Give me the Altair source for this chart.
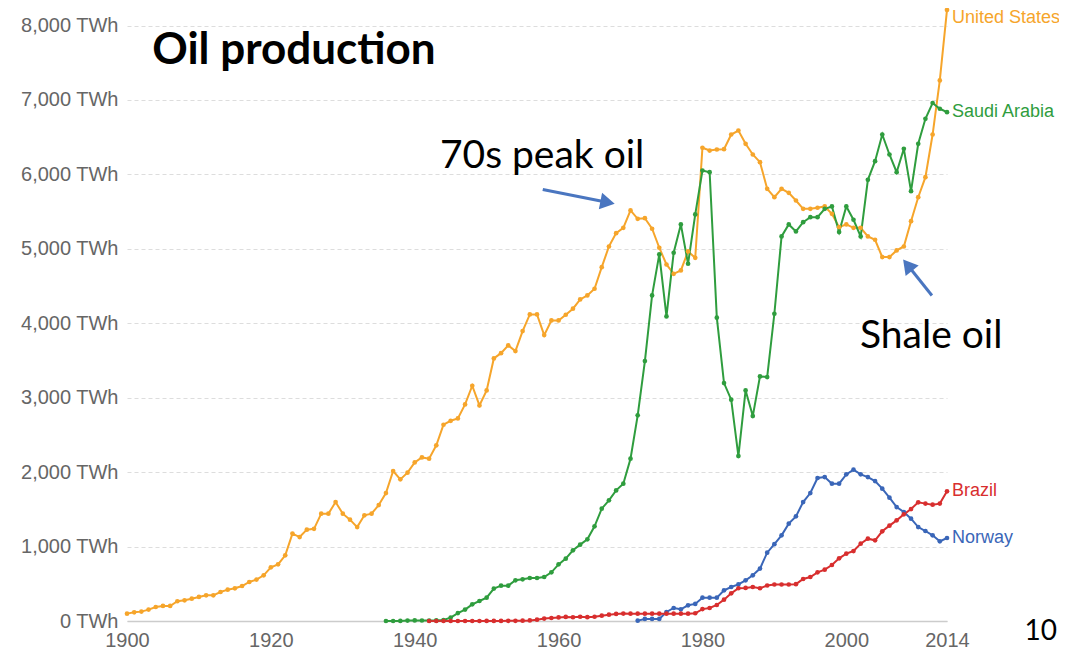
import math
import altair as alt
import pandas as pd

# ---------------- data (TWh per year) ----------------
us_start = 1900
us_values = [
    99, 117, 126, 153, 188, 202, 202, 265, 278, 300,
    323, 345, 345, 390, 421, 439, 470, 524, 556, 614,
    721, 761, 882, 1174, 1128, 1227, 1238, 1442, 1442, 1598,
    1442, 1362, 1262, 1420, 1442, 1558, 1719, 2015, 1903, 1993,
    2131, 2198, 2181, 2360, 2637, 2690, 2722, 2910, 3161, 2897,
    3098, 3528, 3599, 3703, 3626, 3895, 4119, 4119, 3841, 4038,
    4038, 4115, 4196, 4320, 4374, 4464, 4754, 5032, 5211, 5283,
    5516, 5404, 5412, 5270, 5015, 4790, 4665, 4710, 4965, 4880,
    6358, 6321, 6335, 6339, 6536, 6590, 6411, 6268, 6165, 5807,
    5694, 5807, 5753, 5650, 5538, 5538, 5552, 5570, 5471, 5291,
    5328, 5283, 5283, 5167, 5122, 4889, 4889, 4979, 5032, 5372,
    5694, 5963, 6536, 7263, 8210,
]

sa_start = 1936
sa_values = [
    0, 0, 1, 6, 8, 7, 7, 8, 13, 46,
    107, 153, 224, 269, 314, 435, 475, 475, 547, 560,
    578, 578, 591, 654, 761, 838, 950, 1026, 1097, 1272,
    1509, 1621, 1755, 1845, 2181, 2763, 3492, 4374, 4925, 4092,
    4948, 5328, 4800, 5462, 6053, 6030, 4075, 3197, 2974, 2216,
    3098, 2753, 3286, 3277, 4128, 5167, 5328, 5234, 5359, 5426,
    5426, 5538, 5570, 5225, 5570, 5391, 5167, 5928, 6178, 6536,
    6268, 6030, 6344, 5775, 6411, 6747, 6960, 6882, 6836,
]

br_start = 1942
br_values = [
    0, 0, 0, 0, 0, 0, 0, 0, 1, 1,
    1, 2, 2, 4, 8, 18, 32, 40, 48, 55,
    50, 57, 52, 57, 72, 85, 95, 100, 99, 99,
    99, 99, 99, 99, 99, 99, 99, 104, 160, 175,
    215, 287, 372, 440, 445, 457, 440, 477, 490, 490,
    490, 495, 564, 591, 654, 690, 752, 842, 905, 940,
    1039, 1106, 1084, 1205, 1281, 1352, 1433, 1504, 1594, 1577,
    1563, 1577, 1742,
]

no_start = 1971
no_values = [
    5, 28, 28, 28, 121, 175, 157, 211, 230, 314,
    314, 314, 412, 457, 491, 547, 614, 704, 918, 1032,
    1151, 1308, 1406, 1598, 1719, 1921, 1934, 1845, 1845, 1970,
    2033, 1970, 1934, 1880, 1778, 1657, 1531, 1464, 1375, 1262,
    1209, 1151, 1070, 1115,
]

countries = ["United States", "Saudi Arabia", "Norway", "Brazil"]
colors = ["#f6a52b", "#2f9d3e", "#3a66b8", "#d82e2e"]

x_ticks = [1900, 1920, 1940, 1960, 1980, 2000, 2014]
y_ticks = [0, 1000, 2000, 3000, 4000, 5000, 6000, 7000, 8000]

# annotations (data units: year, TWh)
ann_text = ["Oil production", "70s peak oil", "Shale oil"]
ann_year = [1903.5, 1943.5, 2001.9]
ann_twh = [7490, 6093, 3662]
ann_bold = ["bold", "normal", "normal"]

arrow_from_year = [1957.8, 2011.9]
arrow_from_twh = [5798, 4374]
arrow_to_year = [1967.8, 2007.9]
arrow_to_twh = [5606, 4858]

# ---------------- build tables ----------------
series = [
    ("United States", us_start, us_values),
    ("Saudi Arabia", sa_start, sa_values),
    ("Norway", no_start, no_values),
    ("Brazil", br_start, br_values),
]
rows = []
for name, start, vals in series:
    for i, v in enumerate(vals):
        rows.append({"country": name, "year": start + i, "twh": v})
df = pd.DataFrame(rows)

last = pd.DataFrame(
    [{"country": n, "year": s + len(v) - 1, "twh": v[-1]} for n, s, v in series]
)

W, H = 820, 613
X_DOMAIN = [1900, 2014]
Y_DOMAIN = [0, 8236]
px_year = W / (X_DOMAIN[1] - X_DOMAIN[0])
px_twh = H / (Y_DOMAIN[1] - Y_DOMAIN[0])

HEAD_SIZE = 280
head_h = math.sqrt(HEAD_SIZE) * math.sqrt(3) / 2
shaft_rows, head_rows = [], []
for fy, ft, ty, tt in zip(arrow_from_year, arrow_from_twh, arrow_to_year, arrow_to_twh):
    dx = (ty - fy) * px_year
    dy = -(tt - ft) * px_twh
    ln = math.hypot(dx, dy)
    ux, uy = dx / ln, dy / ln
    cx = ty - (head_h / 2) * ux / px_year
    ct = tt + (head_h / 2) * uy / px_twh
    ex = ty - (head_h * 0.8) * ux / px_year
    et = tt + (head_h * 0.8) * uy / px_twh
    ang = math.degrees(math.atan2(ux, -uy)) % 360
    shaft_rows.append({"x": fy, "y": ft, "x2": ex, "y2": et})
    head_rows.append({"x": cx, "y": ct, "angle": ang})
shafts = pd.DataFrame(shaft_rows)
heads = pd.DataFrame(head_rows)

ann = pd.DataFrame({"text": ann_text, "year": ann_year, "twh": ann_twh, "weight": ann_bold})

# ---------------- chart ----------------
xs = alt.Scale(domain=X_DOMAIN, nice=False, zero=False)
ys = alt.Scale(domain=Y_DOMAIN, nice=False)
cs = alt.Scale(domain=countries, range=colors)

x_enc = alt.X(
    "year:Q",
    scale=xs,
    axis=alt.Axis(
        values=x_ticks, format="d", title=None, grid=False, ticks=False,
        labelFontSize=20, labelColor="#666666", labelFont="Liberation Sans",
        labelPadding=9, labelFlush=False, domainColor="#cccccc", domainWidth=1.5,
    ),
)
y_enc = alt.Y(
    "twh:Q",
    scale=ys,
    axis=alt.Axis(
        values=y_ticks, labelExpr="format(datum.value, ',') + ' TWh'", title=None,
        domain=False, ticks=False, grid=True, gridDash=[4, 3], gridColor="#dddddd",
        labelFontSize=20, labelColor="#666666", labelFont="Liberation Sans", labelPadding=9,
    ),
)

lines = alt.Chart(df).mark_line(
    strokeWidth=2, point=alt.OverlayMarkDef(filled=True, size=22)
).encode(
    x=x_enc, y=y_enc,
    color=alt.Color("country:N", scale=cs, legend=None),
)

labels = alt.Chart(last).transform_filter(
    "datum.country != 'United States'"
).mark_text(align="left", baseline="middle", dx=5, fontSize=18, font="Liberation Sans").encode(
    x=alt.X("year:Q", scale=xs), y=alt.Y("twh:Q", scale=ys), text="country:N",
    color=alt.Color("country:N", scale=cs, legend=None),
)
label_us = alt.Chart(last).transform_filter(
    "datum.country == 'United States'"
).mark_text(align="left", baseline="middle", dx=5, dy=8, fontSize=18, font="Liberation Sans").encode(
    x=alt.X("year:Q", scale=xs), y=alt.Y("twh:Q", scale=ys), text="country:N",
    color=alt.Color("country:N", scale=cs, legend=None),
)

title_txt = alt.Chart(ann).transform_filter("datum.weight == 'bold'").mark_text(
    align="left", baseline="alphabetic", fontSize=44, font="Lato", fontWeight="bold", color="black"
).encode(x=alt.X("year:Q", scale=xs), y=alt.Y("twh:Q", scale=ys), text="text:N")
note_txt = alt.Chart(ann).transform_filter("datum.weight != 'bold'").mark_text(
    align="left", baseline="alphabetic", fontSize=39, font="Lato", color="black"
).encode(x=alt.X("year:Q", scale=xs), y=alt.Y("twh:Q", scale=ys), text="text:N")

shaft = alt.Chart(shafts).mark_rule(color="#4a76c0", strokeWidth=3).encode(
    x=alt.X("x:Q", scale=xs), y=alt.Y("y:Q", scale=ys), x2="x2:Q", y2="y2:Q"
)
head = alt.Chart(heads).mark_point(
    shape="triangle-up", filled=True, size=HEAD_SIZE, color="#4a76c0", opacity=1
).encode(
    x=alt.X("x:Q", scale=xs), y=alt.Y("y:Q", scale=ys), angle=alt.Angle("angle:Q", scale=None)
)

page_no = alt.Chart(pd.DataFrame({"t": ["10"]})).mark_text(
    align="right", baseline="alphabetic", fontSize=28, font="Lato", color="black"
).encode(x=alt.value(930), y=alt.value(632), text="t:N")

chart = alt.layer(
    lines, labels, label_us, title_txt, note_txt, shaft, head, page_no
).properties(
    width=W, height=H,
    autosize=alt.AutoSizeParams(type="none"),
    padding={"left": 119, "top": 0, "right": 112, "bottom": 40},
).configure(background="white").configure_view(stroke=None)

chart.save("out.html", embed_options={"renderer": "svg", "actions": False})
